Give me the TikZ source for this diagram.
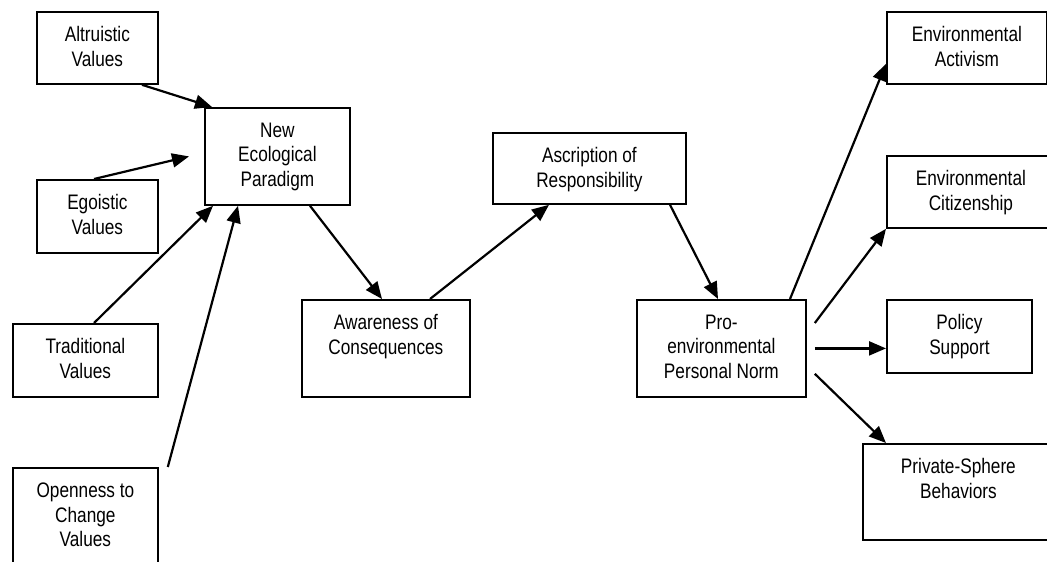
\documentclass[tikz,border=0pt]{standalone}
\usepackage{fontspec}
\setmainfont[FakeStretch=0.82]{Liberation Sans}
\usetikzlibrary{arrows.meta}
\begin{document}
\begin{tikzpicture}[x=1pt,y=-1pt,
  box/.style={draw, rectangle, line width=1.8pt, inner sep=0pt, anchor=north west},
  lbl/.style={font=\fontsize{21}{24.8}\selectfont, align=center, inner sep=0pt, anchor=north, yshift=-15.5pt},
  link/.style={line width=2.2pt, -{Triangle[length=17pt,width=14pt]}},
]
\clip (0,0) rectangle (1047,562);

% value orientations
\node[box, minimum width=121pt, minimum height=72pt,
  label={[lbl]north:Altruistic\\Values}] (alt) at (36,11) {};
\node[box, minimum width=121pt, minimum height=73pt,
  label={[lbl]north:Egoistic\\Values}] (ego) at (36,179) {};
\node[box, minimum width=145pt, minimum height=73pt,
  label={[lbl]north:Traditional\\Values}] (trad) at (12,323) {};
\node[box, minimum width=145pt, minimum height=130pt,
  label={[lbl]north:Openness to\\Change\\Values}] (open) at (12,467) {};

% causal chain
\node[box, minimum width=145pt, minimum height=97pt,
  label={[lbl]north:New\\Ecological\\Paradigm}] (nep) at (204,107) {};
\node[box, minimum width=168pt, minimum height=97pt,
  label={[lbl]north:Awareness of\\Consequences}] (awa) at (301,299) {};
\node[box, minimum width=193pt, minimum height=71pt,
  label={[lbl]north:Ascription of\\Responsibility}] (asc) at (492,132) {};
\node[box, minimum width=169pt, minimum height=97pt,
  label={[lbl]north:Pro-\\environmental\\Personal Norm}] (pro) at (636,299) {};

% outcomes
\node[box, minimum width=160pt, minimum height=72pt,
  label={[lbl]north:Environmental\\Activism}] (act) at (886,11) {};
\node[box, minimum width=168pt, minimum height=72pt,
  label={[lbl]north:Environmental\\Citizenship}] (cit) at (886,155) {};
\node[box, minimum width=145pt, minimum height=73pt,
  label={[lbl]north:Policy\\Support}] (pol) at (886,299) {};
\node[box, minimum width=191pt, minimum height=96pt,
  label={[lbl]north:Private-Sphere\\Behaviors}] (pri) at (862,443) {};

% connectors
\draw[link] ([xshift=106pt]alt.south west) -- ([xshift=8pt]nep.north west);
\draw[link] ([xshift=58pt]ego.north west) -- ([xshift=-15pt]nep.west);
\draw[link] ([xshift=82pt]trad.north west) -- ([xshift=9pt]nep.south west);
\draw[link] ([xshift=9pt]open.north east) -- ([xshift=34pt]nep.south west);
\draw[link] ([xshift=106pt]nep.south west) -- ([xshift=81pt]awa.north west);
\draw[link] ([xshift=129pt]awa.north west) -- ([xshift=57pt]asc.south west);
\draw[link] ([xshift=178pt]asc.south west) -- ([xshift=82pt]pro.north west);
\draw[link] ([xshift=154pt]pro.north west) -- ([yshift=21pt]act.south west);
\draw[link] ([shift={(8pt,-24pt)}]pro.north east) -- (cit.south west);
\draw[link] ([xshift=8pt]pro.east) -- ([yshift=-12pt]pol.west);
\draw[link] ([shift={(8pt,24pt)}]pro.south east) -- ([xshift=24pt]pri.north west);
\end{tikzpicture}
\end{document}
